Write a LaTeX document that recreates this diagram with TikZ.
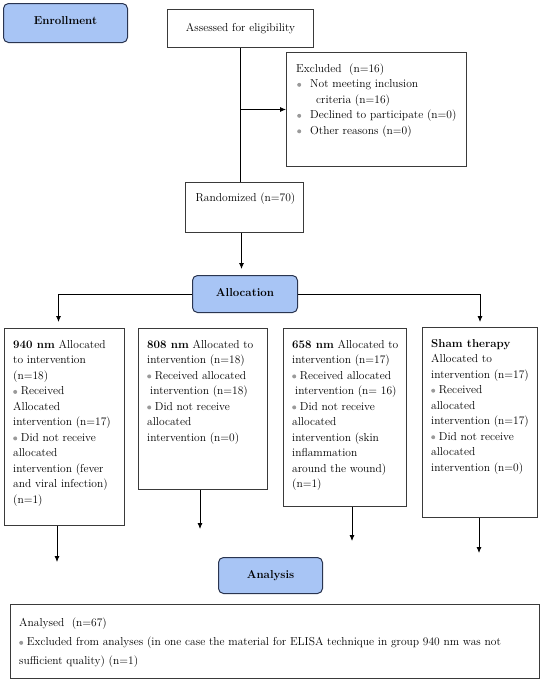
\documentclass[tikz,border=0pt]{standalone}
\usepackage{fontspec}
\usetikzlibrary{arrows.meta}
\definecolor{hdrfill}{HTML}{A8C5F5}
\definecolor{hdrdraw}{HTML}{2A3550}
\definecolor{boxdraw}{HTML}{3A3A3A}
\definecolor{bulgray}{HTML}{9A9A9A}
\newcommand{\gb}{\tikz[baseline=-3pt]\fill[bulgray] (0,0) circle[radius=2pt];}
\tikzset{
  hdr/.style={draw=hdrdraw, fill=hdrfill, line width=1pt, rounded corners=5pt, anchor=north west, inner sep=0pt, font=\fontsize{11.5}{14}\selectfont\bfseries},
  plainbox/.style={draw=boxdraw, line width=1pt, anchor=north west, inner sep=0pt},
  txt/.style={anchor=north west, inner sep=0pt, align=left, font=\fontsize{11.5}{15.5}\selectfont},
  conn/.style={line width=0.8pt, draw=black},
  arr/.style={conn, -{Latex[length=6pt,width=5pt]}}
}
\begin{document}
\begin{tikzpicture}[x=1pt,y=-1pt]
\useasboundingbox (0,0) rectangle (545,683);

% header boxes
\node[hdr, minimum width=124pt, minimum height=39pt] (enr) at (3,3) {\raisebox{4pt}{Enrollment}};
\node[hdr, minimum width=105pt, minimum height=37pt] (alloc) at (192,275) {\raisebox{3pt}{Allocation}};
\node[hdr, minimum width=104pt, minimum height=36pt] (anal) at (218,557) {\raisebox{3pt}{Analysis}};

% top boxes
\node[plainbox, minimum width=146pt, minimum height=38pt, font=\fontsize{11.5}{14}\selectfont] (assess) at (167,9) {Assessed for eligibility};
\node[plainbox, minimum width=180pt, minimum height=114pt] (excl) at (286,52) {};
\node[txt] (texcl) at ([xshift=10pt,yshift=-11.5pt]excl.north west) {Excluded~~(n=16)\\
\hspace*{1pt}\gb\hspace{9pt}Not meeting inclusion\\
\hspace*{20pt}criteria (n=16)\\
\hspace*{1pt}\gb\hspace{9pt}Declined to participate (n=0)\\
\hspace*{1pt}\gb\hspace{9pt}Other reasons (n=0)};
\node[plainbox, minimum width=118pt, minimum height=50pt] (rand) at (185,182) {};
\node[txt] (trand) at ([xshift=1pt,yshift=-11pt]rand.north) [anchor=north] {Randomized (n=70)};

% group boxes
\node[plainbox, minimum width=120pt, minimum height=197pt] (b940) at (4,328) {};
\node[txt] (t940) at ([xshift=9pt,yshift=-12pt]b940.north west) {\textbf{940 nm} Allocated\\
to intervention\\
(n=18)\\
\gb\ Received\\
Allocated\\
intervention (n=17)\\
\gb\ Did not receive\\
allocated\\
intervention (fever\\
and viral infection)\\
(n=1)};

\node[plainbox, minimum width=129pt, minimum height=161pt] (b808) at (138,328) {};
\node[txt] (t808) at ([xshift=9pt,yshift=-12pt]b808.north west) {\textbf{808 nm} Allocated to\\
intervention (n=18)\\
\gb\ Received allocated\\
\hspace*{3pt}intervention (n=18)\\
\gb\ Did not receive\\
allocated\\
intervention (n=0)};

\node[plainbox, minimum width=123pt, minimum height=178pt] (b658) at (283,328) {};
\node[txt] (t658) at ([xshift=9pt,yshift=-12pt]b658.north west) {\textbf{658 nm} Allocated to\\
intervention (n=17)\\
\gb\ Received allocated\\
\hspace*{3pt}intervention (n=~16)\\
\gb\ Did not receive\\
allocated\\
intervention (skin\\
inflammation\\
around the wound)\\
(n=1)};

\node[plainbox, minimum width=115pt, minimum height=190pt] (sham) at (422,327) {};
\node[txt] (tsham) at ([xshift=9pt,yshift=-12pt]sham.north west) {\textbf{Sham therapy}\\
Allocated to\\
intervention (n=17)\\
\gb\ Received\\
allocated\\
intervention (n=17)\\
\gb\ Did not receive\\
allocated\\
intervention (n=0)};

% bottom box
\node[plainbox, minimum width=529pt, minimum height=74pt] (res) at (10,604) {};
\node[txt, font=\fontsize{11.5}{19}\selectfont] (tres) at ([xshift=9pt,yshift=-14pt]res.north west) {Analysed~~(n=67)\\
\gb\ Excluded from analyses (in one case the material for ELISA technique in group 940 nm was not\\
sufficient quality) (n=1)};

% connectors
\coordinate (split) at (assess.south |- excl.west);
\draw[conn] (assess.south) -- (assess.south |- rand.north);
\draw[arr] (split) -- (excl.west);
\draw[arr, shorten >=6pt] ([xshift=-3pt]rand.south) -- ([xshift=-3pt]rand.south |- alloc.north);
\draw[arr, shorten >=6pt] (alloc.west) -| ([xshift=-6pt]b940.north);
\draw[arr, shorten >=5pt] (alloc.east) -| (sham.north);

\coordinate (e940) at (57,562);
\coordinate (e808) at (200,529);
\coordinate (e658) at (352,541);
\coordinate (esham) at (479,553);
\draw[arr] (b940.south -| e940) -- (e940);
\draw[arr] (b808.south -| e808) -- (e808);
\draw[arr] (b658.south -| e658) -- (e658);
\draw[arr] (sham.south -| esham) -- (esham);
\end{tikzpicture}
\end{document}
